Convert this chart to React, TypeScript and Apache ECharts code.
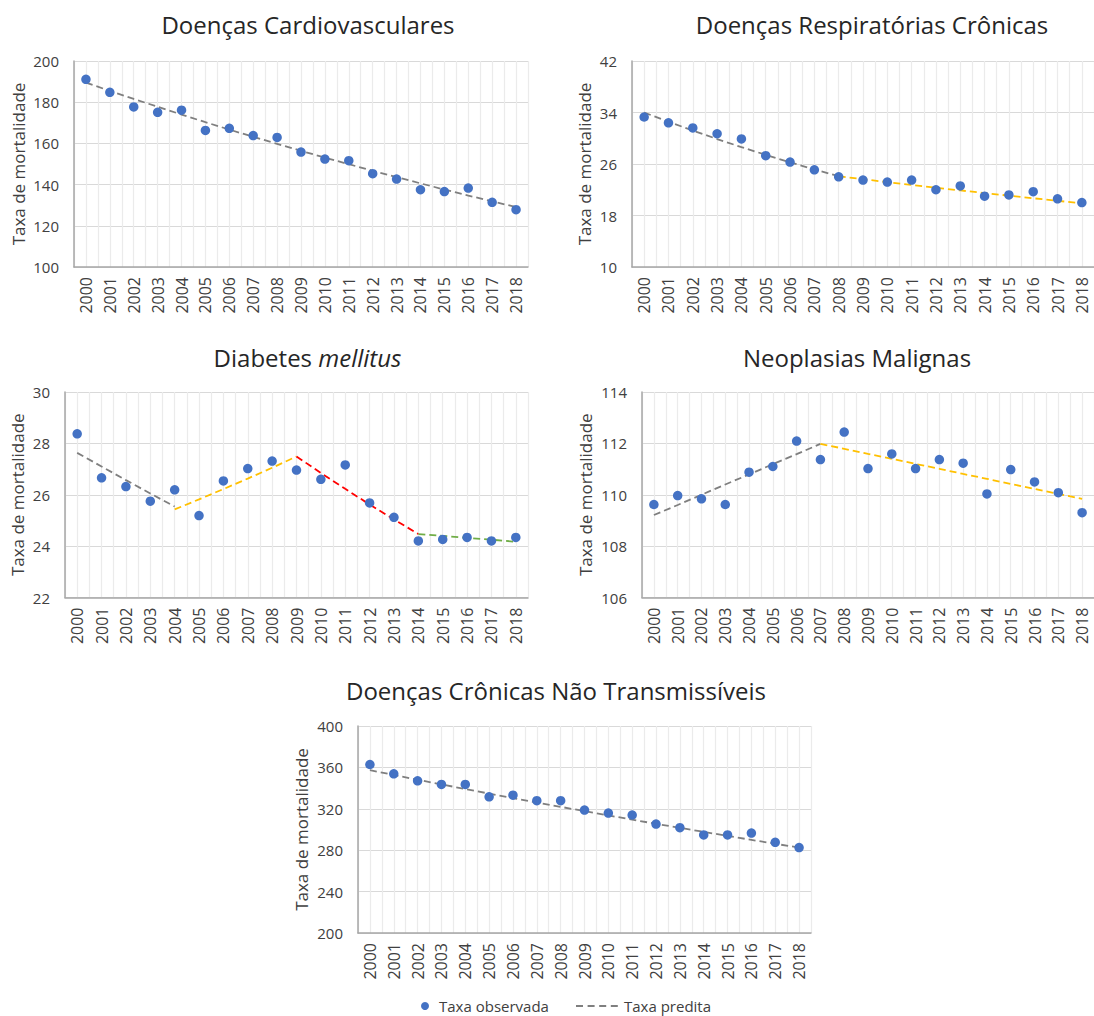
import React, { useEffect, useRef } from 'react';
import * as echarts from 'echarts';

// ---------- DATA ----------
const years = ['2000', '2001', '2002', '2003', '2004', '2005', '2006', '2007', '2008', '2009', '2010', '2011', '2012', '2013', '2014', '2015', '2016', '2017', '2018'];

const cardioObserved = [191.1, 184.8, 177.7, 175.1, 176.1, 166.3, 167.3, 163.8, 162.9, 155.8, 152.4, 151.6, 145.3, 142.7, 137.5, 136.6, 138.3, 131.4, 127.8];
const cardioTrend = [189.5, 185.5, 181.6, 177.8, 174.0, 170.3, 166.7, 163.2, 159.8, 156.4, 153.1, 149.9, 146.7, 143.6, 140.6, 137.6, 134.7, 131.9, 129.1];
const cardioTicks = [100, 120, 140, 160, 180, 200];

const respObserved = [33.3, 32.4, 31.6, 30.7, 29.9, 27.3, 26.3, 25.1, 24.0, 23.5, 23.2, 23.5, 22.0, 22.6, 21.0, 21.2, 21.7, 20.6, 20.0];
const respTrendA = [34.0, 32.57, 31.2, 29.88, 28.62, 27.42, 26.26, 25.16, 24.1]; // 2000–2008
const respTrendB = [24.1, 23.64, 23.19, 22.75, 22.32, 21.9, 21.48, 21.08, 20.68, 20.28, 19.9]; // 2008–2018
const respTicks = [10, 18, 26, 34, 42];

const diabetesObserved = [28.37, 26.66, 26.32, 25.75, 26.19, 25.19, 26.54, 27.02, 27.31, 26.96, 26.6, 27.16, 25.68, 25.12, 24.2, 24.26, 24.34, 24.2, 24.34];
const diabetesTrendA = [27.63, 27.1, 26.57, 26.05, 25.54]; // 2000–2004
const diabetesTrendB = [25.43, 25.82, 26.22, 26.63, 27.05, 27.49]; // 2004–2009
const diabetesTrendC = [27.49, 26.85, 26.23, 25.62, 25.04, 24.47]; // 2009–2014
const diabetesTrendD = [24.47, 24.4, 24.32, 24.25, 24.17]; // 2014–2018
const diabetesTicks = [22, 24, 26, 28, 30];

const neoObserved = [109.62, 109.97, 109.84, 109.62, 110.88, 111.1, 112.09, 111.37, 112.44, 111.02, 111.59, 111.02, 111.37, 111.23, 110.03, 110.98, 110.5, 110.08, 109.3];
const neoTrendA = [109.21, 109.6, 110.0, 110.4, 110.79, 111.19, 111.58, 111.98]; // 2000–2007
const neoTrendB = [111.98, 111.79, 111.59, 111.4, 111.2, 111.01, 110.81, 110.62, 110.42, 110.23, 110.03, 109.84]; // 2007–2018
const neoTicks = [106, 108, 110, 112, 114];

const dcntObserved = [362.8, 353.8, 347.0, 343.5, 343.5, 331.6, 333.2, 327.8, 327.8, 318.8, 315.9, 314.0, 305.3, 301.8, 294.7, 294.7, 296.6, 287.6, 282.5];
const dcntTrend = [357.3, 352.7, 348.1, 343.6, 339.1, 334.7, 330.4, 326.1, 321.9, 317.7, 313.6, 309.5, 305.5, 301.6, 297.7, 293.8, 290.0, 286.2, 282.5];
const dcntTicks = [200, 240, 280, 320, 360, 400];

const legendLabels = ['Taxa observada', 'Taxa predita'];
const yAxisName = 'Taxa de mortalidade';

// ---------- STYLE ----------
const FONT = '"Open Sans", "Noto Sans", sans-serif';
const DOT = '#4472c4';
const GRAY = '#7f7f7f';
const YELLOW = '#ffc000';
const RED = '#ff0000';
const GREEN = '#70ad47';
const LABEL = '#404040';
const TITLE = '#262626';

type Trend = { start: number; values: number[]; color: string };
type Panel = {
  title: string;
  rich?: boolean;
  titleX: number;
  titleY: number;
  nameGap: number;
  grid: { left: number; top: number; width: number; height: number };
  ticks: number[];
  observed: number[];
  trends: Trend[];
};

const panels: Panel[] = [
  {
    title: 'Doenças Cardiovasculares', titleX: 308, titleY: 24.5, nameGap: 47,
    grid: { left: 74, top: 61, width: 454, height: 206 },
    ticks: cardioTicks, observed: cardioObserved,
    trends: [{ start: 0, values: cardioTrend, color: GRAY }],
  },
  {
    title: 'Doenças Respiratórias Crônicas', titleX: 872, titleY: 24.5, nameGap: 39,
    grid: { left: 632, top: 61, width: 463, height: 206 },
    ticks: respTicks, observed: respObserved,
    trends: [
      { start: 0, values: respTrendA, color: GRAY },
      { start: 8, values: respTrendB, color: YELLOW },
    ],
  },
  {
    title: '{n|Diabetes }{i|mellitus}', rich: true, titleX: 307.5, titleY: 357, nameGap: 39,
    grid: { left: 65, top: 392, width: 463, height: 205.5 },
    ticks: diabetesTicks, observed: diabetesObserved,
    trends: [
      { start: 0, values: diabetesTrendA, color: GRAY },
      { start: 4, values: diabetesTrendB, color: YELLOW },
      { start: 9, values: diabetesTrendC, color: RED },
      { start: 14, values: diabetesTrendD, color: GREEN },
    ],
  },
  {
    title: 'Neoplasias Malignas', titleX: 857, titleY: 357, nameGap: 48,
    grid: { left: 642, top: 392, width: 453, height: 205.5 },
    ticks: neoTicks, observed: neoObserved,
    trends: [
      { start: 0, values: neoTrendA, color: GRAY },
      { start: 7, values: neoTrendB, color: YELLOW },
    ],
  },
  {
    title: 'Doenças Crônicas Não Transmissíveis', titleX: 556, titleY: 690, nameGap: 48,
    grid: { left: 358, top: 726, width: 453, height: 207 },
    ticks: dcntTicks, observed: dcntObserved,
    trends: [{ start: 0, values: dcntTrend, color: GRAY }],
  },
];

function pad(start: number, values: number[]): (number | null)[] {
  return years.map((_, i) => (i >= start && i < start + values.length ? values[i - start] : null));
}

function buildOption() {
  const grid: any[] = [];
  const xAxis: any[] = [];
  const yAxis: any[] = [];
  const series: any[] = [];
  const graphic: any[] = [];

  panels.forEach((p, k) => {
    grid.push({ ...p.grid, containLabel: false });
    const ticks = p.ticks;
    const interval = ticks[1] - ticks[0];
    // category axis with labels
    xAxis.push({
      type: 'category', gridIndex: k, data: years, boundaryGap: true, position: 'bottom', z: 5,
      axisLine: { show: true, onZero: false, lineStyle: { color: '#a6a6a6', width: 1.5 } },
      axisTick: { show: false },
      axisLabel: { rotate: 90, margin: 10, fontSize: 16, color: LABEL, fontFamily: FONT, interval: 0 },
      splitLine: { show: false },
    });
    // helper axis for vertical gridlines at centres and boundaries
    xAxis.push({
      type: 'value', gridIndex: k, min: -0.5, max: years.length - 0.5, interval: 0.5, position: 'bottom',
      axisLine: { show: false, onZero: false }, axisTick: { show: false }, axisLabel: { show: false },
      splitLine: { show: true, lineStyle: { color: '#ebebeb', width: 1.2 } },
    });
    yAxis.push({
      type: 'value', gridIndex: k, min: ticks[0], max: ticks[ticks.length - 1], interval,
      name: yAxisName, nameLocation: 'middle', nameGap: p.nameGap, nameRotate: 90,
      nameTextStyle: { fontSize: 17, color: LABEL, fontFamily: FONT },
      axisLine: { show: true, onZero: false, lineStyle: { color: '#a6a6a6', width: 1.5 } },
      axisTick: { show: false, customValues: ticks },
      axisLabel: { fontSize: 15, color: LABEL, fontFamily: FONT, margin: 15, customValues: ticks },
      splitLine: { show: true, lineStyle: { color: '#d9d9d9', width: 1.2 } },
    });
    p.trends.forEach((t) => {
      series.push({
        type: 'line', xAxisIndex: 2 * k, yAxisIndex: k, data: pad(t.start, t.values),
        symbol: 'none', connectNulls: false, z: 3,
        lineStyle: { color: t.color, width: 1.8, type: [7, 4] },
      });
    });
    series.push({
      type: 'scatter', xAxisIndex: 2 * k, yAxisIndex: k, data: p.observed,
      symbol: 'circle', symbolSize: 9.5, z: 4,
      itemStyle: { color: DOT, opacity: 1 },
    });
    graphic.push({
      type: 'text', x: p.titleX, y: p.titleY,
      style: {
        text: p.title, fill: TITLE, fontSize: 24, fontFamily: FONT,
        align: 'center', verticalAlign: 'middle', textAlign: 'center', textVerticalAlign: 'middle',
        rich: p.rich
          ? {
              n: { fontSize: 24, fontFamily: FONT, fill: TITLE, color: TITLE },
              i: { fontSize: 24, fontFamily: FONT, fontStyle: 'italic', fill: TITLE, color: TITLE },
            }
          : undefined,
      },
    });
  });

  // legend
  const ly = 1006;
  graphic.push({ type: 'circle', shape: { cx: 425, cy: ly, r: 4 }, style: { fill: DOT } });
  graphic.push({
    type: 'text', x: 439, y: ly,
    style: { text: legendLabels[0], fill: LABEL, fontSize: 15, fontFamily: FONT, align: 'left', verticalAlign: 'middle', textAlign: 'left', textVerticalAlign: 'middle' },
  });
  graphic.push({
    type: 'line', shape: { x1: 576, y1: ly, x2: 618, y2: ly },
    style: { stroke: GRAY, lineWidth: 1.8, lineDash: [7, 4.6] },
  });
  graphic.push({
    type: 'text', x: 624, y: ly,
    style: { text: legendLabels[1], fill: LABEL, fontSize: 15, fontFamily: FONT, align: 'left', verticalAlign: 'middle', textAlign: 'left', textVerticalAlign: 'middle' },
  });

  return {
    animation: false,
    backgroundColor: '#ffffff',
    textStyle: { fontFamily: FONT },
    grid, xAxis, yAxis, series, graphic,
  };
}

export default function App() {
  const ref = useRef<HTMLDivElement>(null);
  useEffect(() => {
    if (!ref.current) return;
    const chart = echarts.init(ref.current, undefined, { renderer: 'svg' });
    chart.setOption(buildOption() as any);
    return () => chart.dispose();
  }, []);
  return (
    <div
      ref={ref}
      style={{ position: 'absolute', left: 0, top: 0, width: 1094, height: 1016, background: '#fff' }}
    />
  );
}
